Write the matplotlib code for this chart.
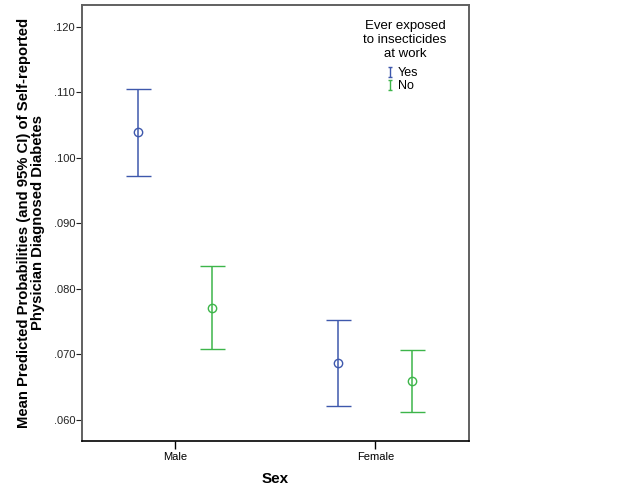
import numpy as np
import matplotlib
matplotlib.use("Agg")
import matplotlib.pyplot as plt
from matplotlib.lines import Line2D
from matplotlib.path import Path

plt.rcParams['font.family'] = ['Liberation Sans', 'DejaVu Sans']

# data
sexes = ["Male", "Female"]
groups = ["Yes", "No"]
means = {"Yes": [0.1039, 0.0687], "No": [0.0771, 0.0659]}
lower = {"Yes": [0.0972, 0.0621], "No": [0.0708, 0.0611]}
upper = {"Yes": [0.1106, 0.0753], "No": [0.0835, 0.0706]}
colors = {"Yes": "#3e58ac", "No": "#3db54a"}
offsets = {"Yes": -0.185, "No": 0.185}
yticks = [0.060, 0.070, 0.080, 0.090, 0.100, 0.110, 0.120]

fig = plt.figure(figsize=(6.26, 5.01), dpi=100)
ax = fig.add_axes([82 / 626, 1 - 441 / 501, 387 / 626, 436 / 501])

x = np.arange(len(sexes))
for g in groups:
    m = np.array(means[g])
    lo = m - np.array(lower[g])
    hi = np.array(upper[g]) - m
    ax.errorbar(x + offsets[g], m, yerr=[lo, hi], fmt='o', mfc='none',
                mec=colors[g], ms=6, mew=1, ecolor=colors[g], elinewidth=1.1,
                capsize=9, capthick=1.1, color=colors[g])

ax.set_xlim(-0.464, 1.468)
ax.set_ylim(0.05674, 0.12336)
ax.set_xticks(x)
ax.set_xticklabels(sexes, fontsize=8)
ax.set_yticks(yticks)
ax.set_yticklabels(["{:.3f}".format(v)[1:] for v in yticks], fontsize=8)
ax.tick_params(axis='y', length=4, width=0.8, pad=1, colors='#222222')
ax.tick_params(axis='x', length=6, width=1, pad=2)

for s in ['top', 'right', 'left']:
    ax.spines[s].set_color('#606060')
    ax.spines[s].set_linewidth(1.4)
ax.spines['bottom'].set_color('black')
ax.spines['bottom'].set_linewidth(1.2)

ax.set_xlabel("Sex", fontsize=11, fontweight='bold', labelpad=7)
ax.set_ylabel("Mean Predicted Probabilities (and 95% CI) of Self-reported\nPhysician Diagnosed Diabetes",
              fontsize=10.75, fontweight='bold', linespacing=1.05, labelpad=6)

# legend in SPSS style
ax.text(0.835, 0.965, "Ever exposed\nto insecticides\nat work", transform=ax.transAxes,
        ha='center', va='top', fontsize=9.5, linespacing=1.2)
ibeam = Path([(-0.45, -1), (0.45, -1), (0, -1), (0, 1), (-0.45, 1), (0.45, 1)],
             [Path.MOVETO, Path.LINETO, Path.MOVETO, Path.LINETO, Path.MOVETO, Path.LINETO])
handles = [Line2D([], [], ls='none', marker=ibeam, color=colors[g], ms=6.5, mew=1, fillstyle='none')
           for g in groups]
ax.legend(handles, groups, loc='upper left', bbox_to_anchor=(0.77, 0.872), frameon=False,
          fontsize=9, handlelength=0.6, handletextpad=0.35, labelspacing=0.1, borderpad=0)

fig.savefig("out.png", dpi=100)
